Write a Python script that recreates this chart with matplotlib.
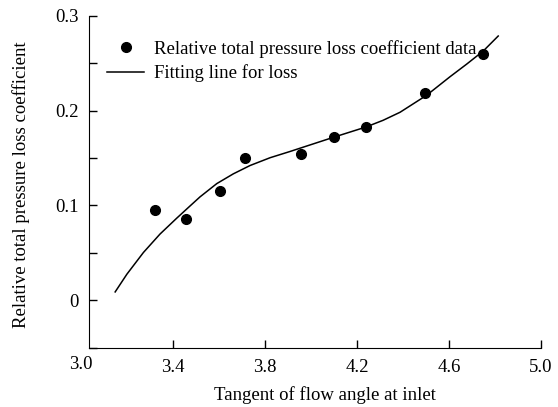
import numpy as np
import matplotlib.pyplot as plt
import matplotlib.transforms as mtransforms
from matplotlib.ticker import MultipleLocator

plt.rcParams['font.family'] = ['Liberation Serif', 'DejaVu Serif']

# Datos medidos
tan_flujo = [3.322, 3.457, 3.604, 3.713, 3.957, 4.101, 4.239, 4.497, 4.749]
coef_perdida = [0.0956, 0.0853, 0.1153, 0.1495, 0.1538, 0.1721, 0.1827, 0.2180, 0.2593]

# Curva de ajuste
tan_ajuste = [3.148, 3.199, 3.271, 3.343, 3.416, 3.474, 3.517, 3.590, 3.662, 3.735, 3.822,
              3.909, 3.967, 4.101, 4.238, 4.313, 4.387, 4.503, 4.604, 4.677, 4.749, 4.814]
coef_ajuste = [0.0088, 0.0275, 0.0504, 0.0698, 0.0866, 0.0995, 0.1090, 0.1230, 0.1333, 0.1421, 0.1503,
               0.1569, 0.1615, 0.1721, 0.1826, 0.1897, 0.1982, 0.2162, 0.2356, 0.2490, 0.2628, 0.2786]

fs = 13.5

fig = plt.figure(figsize=(5.58, 4.07), dpi=100)
ax = fig.add_axes([0.159, 0.1457, 0.8105, 0.8157])

ax.plot(tan_flujo, coef_perdida, 'o', color='black', markersize=7,
        label='Relative total pressure loss coefficient data')
ax.plot(tan_ajuste, coef_ajuste, '-', color='black', linewidth=1.1,
        label='Fitting line for loss')

ax.set_xlim(3.033, 5.0)
ax.set_ylim(-0.05, 0.3)
ax.set_xticks([3.4, 3.8, 4.2, 4.6, 5.0])
ax.set_xticklabels(['3.4', '3.8', '4.2', '4.6', '5.0'])
ax.xaxis.set_minor_locator(MultipleLocator(0.4, offset=0.2))
ax.set_yticks([0, 0.1, 0.2, 0.3])
ax.set_yticklabels(['0', '0.1', '0.2', '0.3'])
ax.yaxis.set_minor_locator(MultipleLocator(0.1, offset=0.05))

ax.tick_params(which='both', direction='in', length=6, width=1, labelsize=fs)
ax.tick_params(axis='x', pad=8)
ax.tick_params(axis='y', pad=7)

# 3.0 queda fuera del rango del eje, se pone como texto
trans = mtransforms.blended_transform_factory(ax.transData, ax.transAxes)
ax.text(3.0, -0.024, '3.0', transform=trans, ha='center', va='top',
        fontsize=fs, clip_on=False)

ax.spines['top'].set_visible(False)
ax.spines['right'].set_visible(False)

ax.set_xlabel('Tangent of flow angle at inlet', fontsize=fs)
ax.xaxis.set_label_coords(0.522, -0.115)
ax.set_ylabel('Relative total pressure loss coefficient', fontsize=fs)
ax.yaxis.set_label_coords(-0.13, 0.49)

ax.legend(loc='upper left', bbox_to_anchor=(0.04, 0.927), frameon=False,
          fontsize=fs, handlelength=2.0, handletextpad=0.5,
          borderpad=0, borderaxespad=0, labelspacing=0.35)

plt.savefig('out.png', dpi=100)
